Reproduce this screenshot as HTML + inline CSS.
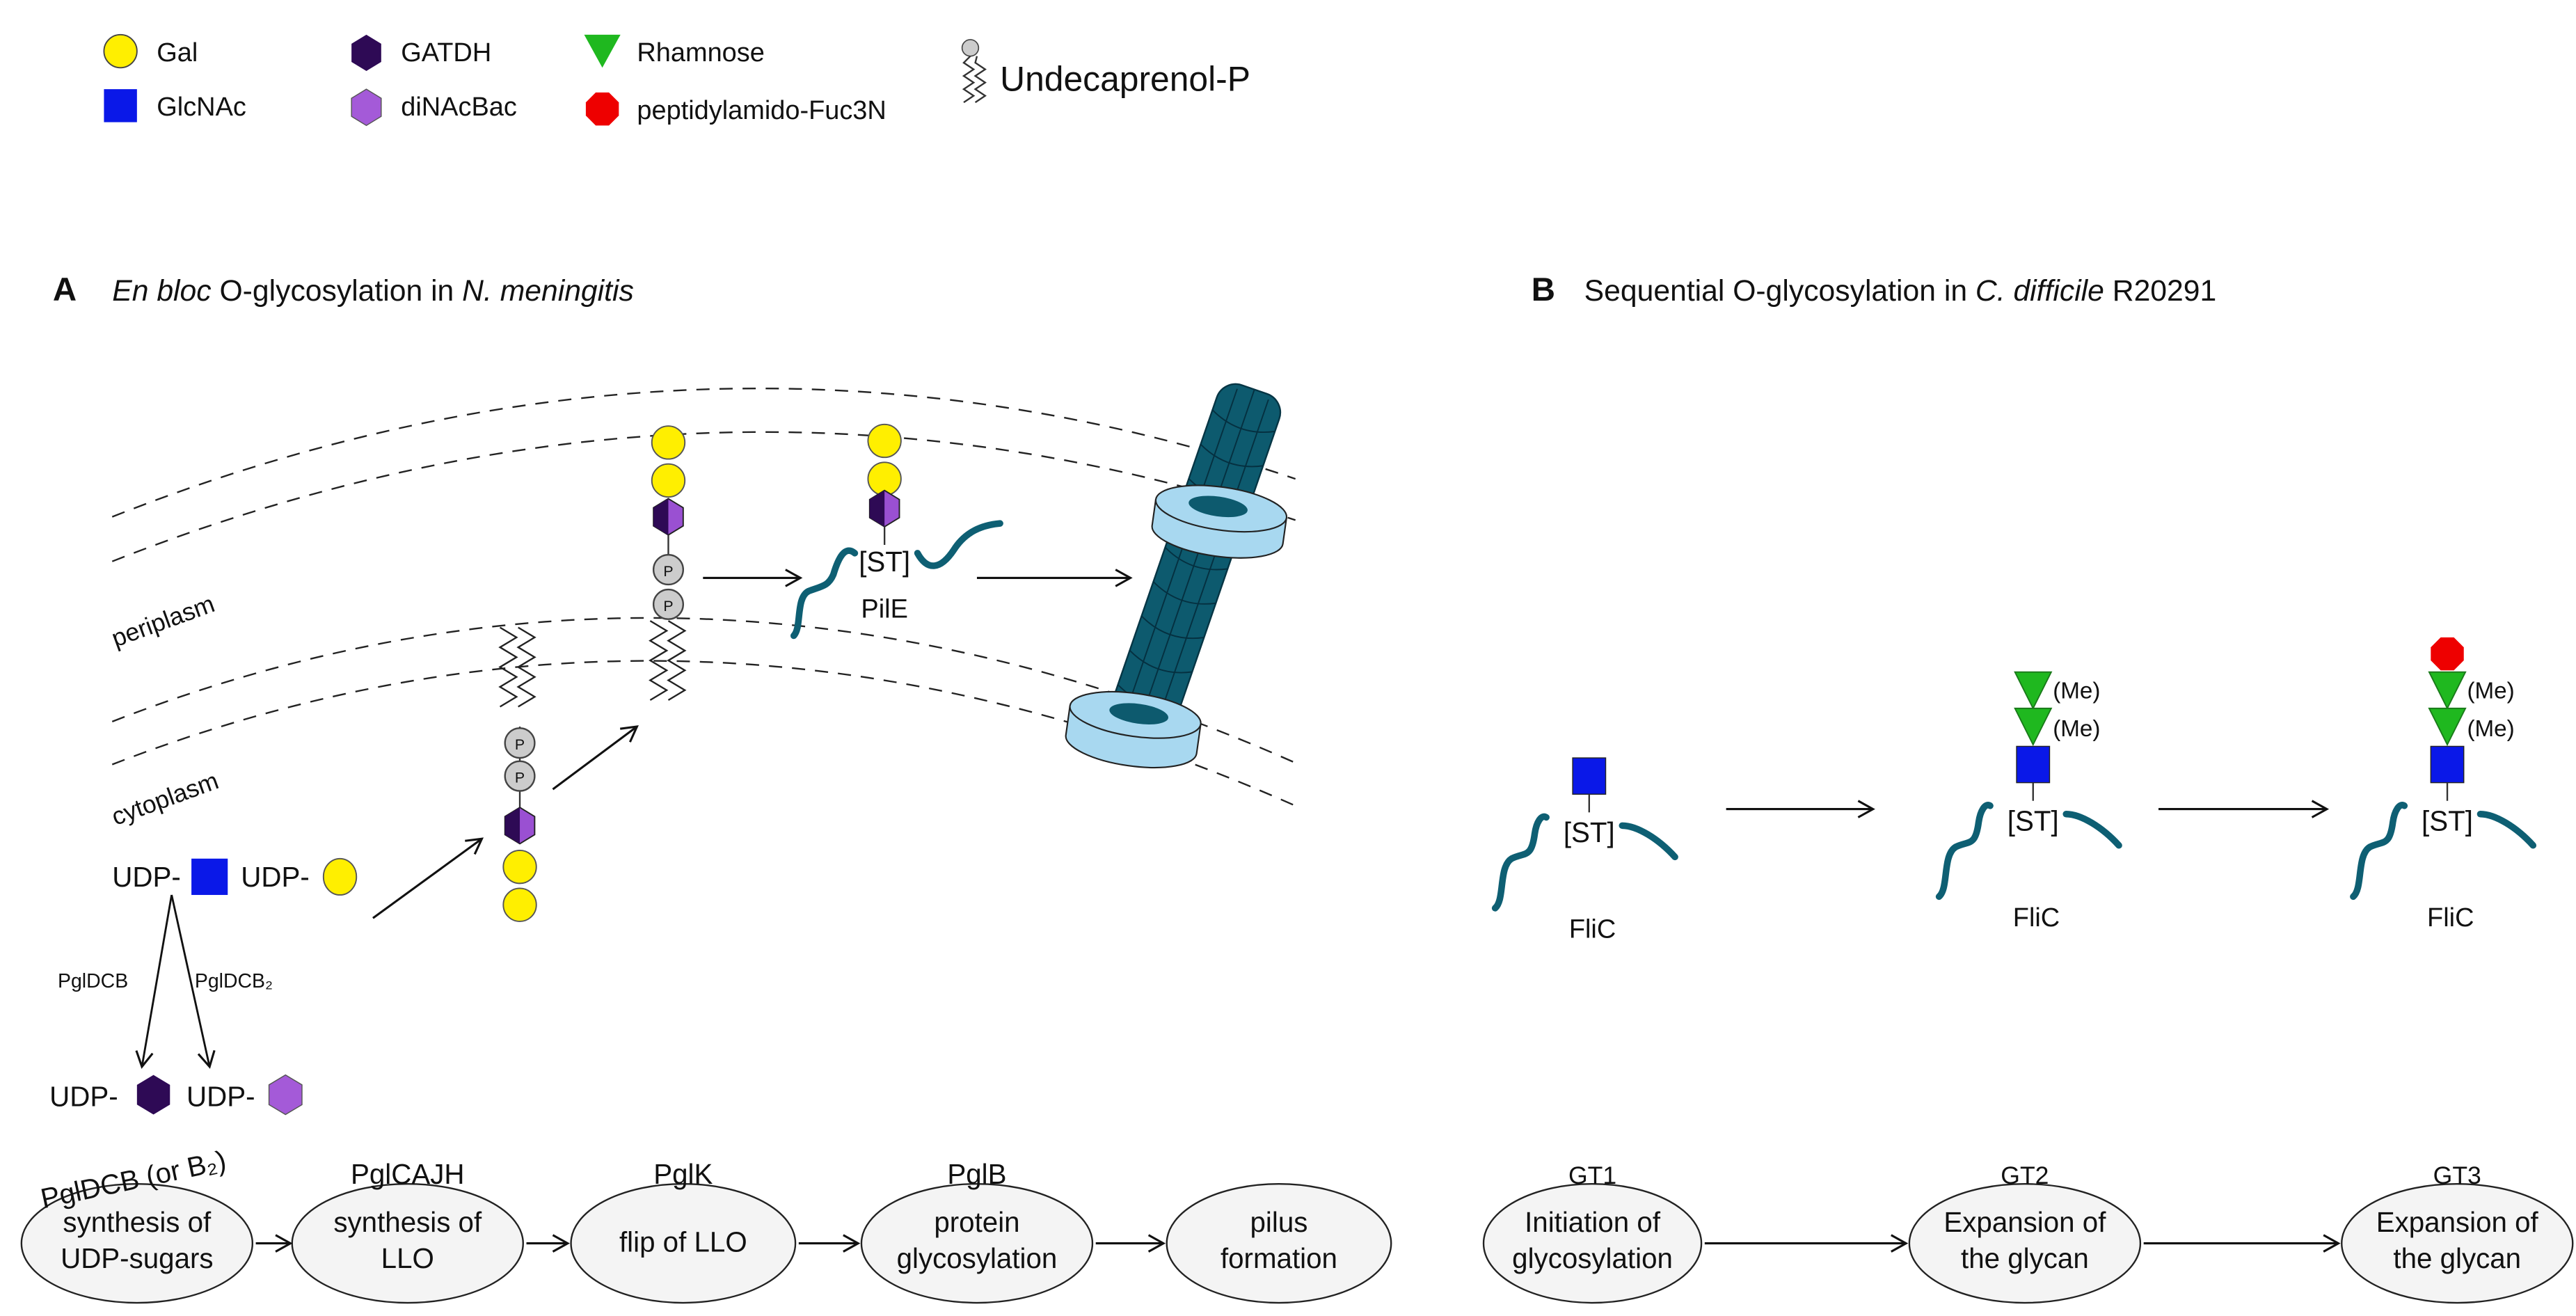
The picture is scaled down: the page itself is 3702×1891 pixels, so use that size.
<!DOCTYPE html>
<html><head><meta charset="utf-8"><style>
html,body{margin:0;padding:0;background:#fff;}
svg{display:block;}
text{font-family:"Liberation Sans",Arial,sans-serif;fill:#111;}
</style></head><body>
<svg width="3702" height="1891" viewBox="0 0 1561 797" preserveAspectRatio="none" xmlns="http://www.w3.org/2000/svg">
<defs>
<marker id="ar" markerWidth="12" markerHeight="12" refX="10" refY="6" orient="auto" markerUnits="userSpaceOnUse">
<path d="M1,1 L10,6 L1,11" fill="none" stroke="#111" stroke-width="1.3"/></marker>
<g id="hexh"><polygon points="0,-11 9,-5.5 9,5.5 0,11 -9,5.5 -9,-5.5" fill="#9a50d2" stroke="#222" stroke-width="0.8"/><polygon points="0,-11 0,11 -9,5.5 -9,-5.5" fill="#2e0a55"/></g>
<g id="tri"><polygon points="-11,-11 11,-11 0,11" fill="#1fb81f" stroke="#1a7a1a" stroke-width="0.8"/></g>
<g id="zig"><path d="M-6,0 l10,6 l-10,6 l10,6 l-10,6 l10,6 l-10,6 l10,6 l-10,6" fill="none" stroke="#222" stroke-width="1"/></g>
</defs>
<!-- legend -->
<circle cx="73" cy="31" r="10" fill="#ffef00" stroke="#444" stroke-width="0.8"/>
<text x="95" y="37" font-size="16">Gal</text>
<rect x="63" y="54" width="20" height="20" fill="#0a18e8"/>
<text x="95" y="70" font-size="16">GlcNAc</text>
<polygon points="222,21 231,26.5 231,37.5 222,43 213,37.5 213,26.5" fill="#2e0a55"/>
<text x="243" y="37" font-size="16">GATDH</text>
<polygon points="222,54 231,59.5 231,70.5 222,76 213,70.5 213,59.5" fill="#a45ad8" stroke="#555" stroke-width="0.6"/>
<text x="243" y="70" font-size="16">diNAcBac</text>
<polygon points="354,21 376,21 365,41" fill="#1fb81f"/>
<text x="386" y="37" font-size="16">Rhamnose</text>
<polygon points="361,56 369,56 375,62 375,70 369,76 361,76 355,70 355,62" fill="#ee0000"/>
<text x="386" y="72" font-size="16">peptidylamido-Fuc3N</text>
<circle cx="588" cy="29" r="5" fill="#ccc" stroke="#444" stroke-width="0.7"/>
<path d="M588,34 l-4,4 l6,4 l-6,4 l6,4 l-6,4 l6,4 l-6,4" fill="none" stroke="#333" stroke-width="1"/>
<path d="M592,34 l-1,4 l6,4 l-6,4 l6,4 l-6,4 l6,4 l-6,4" fill="none" stroke="#333" stroke-width="1"/>
<text x="606" y="55" font-size="21">Undecaprenol-P</text>
<!-- titles -->
<text x="32" y="182" font-size="20" font-weight="bold">A</text>
<text x="68" y="182" font-size="18"><tspan font-style="italic">En bloc</tspan> O-glycosylation in <tspan font-style="italic">N. meningitis</tspan></text>
<text x="928" y="182" font-size="20" font-weight="bold">B</text>
<text x="960" y="182" font-size="18">Sequential O-glycosylation in <tspan font-style="italic">C. difficile</tspan> R20291</text>
<!-- membranes -->
<g fill="none" stroke="#222" stroke-width="1" stroke-dasharray="8,6">
<path d="M68,313 Q430,170 785,290"/>
<path d="M68,340 Q430,197 785,315"/>
<path d="M68,437 Q420,300 785,462"/>
<path d="M68,463 Q420,326 785,488"/>
</g>
<text transform="translate(70,392) rotate(-20)" font-size="15">periplasm</text>
<text transform="translate(70,500) rotate(-20)" font-size="15">cytoplasm</text>
<!-- left LLO -->
<use href="#zig" x="309" y="380"/><use href="#zig" x="320" y="380"/>
<line x1="315" y1="440" x2="315" y2="500" stroke="#333"/>
<circle cx="315" cy="450" r="9" fill="#ccc" stroke="#444"/><text x="315" y="454" font-size="9" text-anchor="middle">P</text>
<circle cx="315" cy="470" r="9" fill="#ccc" stroke="#444"/><text x="315" y="474" font-size="9" text-anchor="middle">P</text>
<use href="#hexh" x="315" y="500"/>
<circle cx="315" cy="525" r="10" fill="#ffef00" stroke="#555" stroke-width="0.8"/>
<circle cx="315" cy="548" r="10" fill="#ffef00" stroke="#555" stroke-width="0.8"/>
<line x1="226" y1="556" x2="292" y2="508" stroke="#111" stroke-width="1.3" marker-end="url(#ar)"/>
<line x1="335" y1="478" x2="386" y2="440" stroke="#111" stroke-width="1.3" marker-end="url(#ar)"/>
<!-- middle LLO -->
<circle cx="405" cy="268" r="10" fill="#ffef00" stroke="#555" stroke-width="0.8"/>
<circle cx="405" cy="291" r="10" fill="#ffef00" stroke="#555" stroke-width="0.8"/>
<use href="#hexh" x="405" y="313"/>
<line x1="405" y1="324" x2="405" y2="345" stroke="#333"/>
<circle cx="405" cy="345" r="9" fill="#ccc" stroke="#444"/><text x="405" y="349" font-size="9" text-anchor="middle">P</text>
<circle cx="405" cy="366" r="9" fill="#ccc" stroke="#444"/><text x="405" y="370" font-size="9" text-anchor="middle">P</text>
<use href="#zig" x="400" y="376"/><use href="#zig" x="411" y="376"/>
<line x1="426" y1="350" x2="485" y2="350" stroke="#111" stroke-width="1.3" marker-end="url(#ar)"/>
<!-- PilE -->
<circle cx="536" cy="267" r="10" fill="#ffef00" stroke="#555" stroke-width="0.8"/>
<circle cx="536" cy="290" r="10" fill="#ffef00" stroke="#555" stroke-width="0.8"/>
<use href="#hexh" x="536" y="308"/>
<line x1="536" y1="319" x2="536" y2="330" stroke="#333"/>
<text x="536" y="346" font-size="17" text-anchor="middle">[ST]</text>
<path d="M481,385 C486,380 482,362 490,358 C498,355 502,355 505,348 C508,338 512,330 518,335" fill="none" stroke="#0e5f73" stroke-width="4" stroke-linecap="round"/>
<path d="M556,335 C562,346 570,345 578,333 C585,322 595,318 606,317" fill="none" stroke="#0e5f73" stroke-width="4" stroke-linecap="round"/>
<text x="536" y="374" font-size="16" text-anchor="middle">PilE</text>
<line x1="592" y1="350" x2="685" y2="350" stroke="#111" stroke-width="1.3" marker-end="url(#ar)"/>
<!-- pilus -->
<g transform="translate(725,338) rotate(19)">
<rect x="-20" y="-108" width="40" height="216" rx="12" fill="#0d5a6e" stroke="#063544"/>
<g stroke="#053040" stroke-width="0.8" fill="none">
<path d="M-10,-105 V105 M0,-108 V108 M10,-105 V105"/>
<path d="M-20,-88 Q0,-78 20,-88 M-20,-66 Q0,-56 20,-66 M-20,-44 Q0,-34 20,-44 M-20,-22 Q0,-12 20,-22 M-20,0 Q0,10 20,0 M-20,22 Q0,32 20,22 M-20,44 Q0,54 20,44 M-20,66 Q0,76 20,66 M-20,88 Q0,98 20,88"/>
</g>
</g>
<g transform="translate(740,308) rotate(8)">
<path d="M-40,0 V16 A40,13 0 0 0 40,16 V0" fill="#a8d8f0" stroke="#222" stroke-width="0.9"/>
<ellipse cx="0" cy="0" rx="40" ry="13" fill="#a8d8f0" stroke="#222" stroke-width="0.9"/>
<ellipse cx="-2" cy="-1" rx="18" ry="6" fill="#0d5a6e"/>
</g>
<g transform="translate(688,433) rotate(8)">
<path d="M-40,0 V18 A40,13 0 0 0 40,18 V0" fill="#a8d8f0" stroke="#222" stroke-width="0.9"/>
<ellipse cx="0" cy="0" rx="40" ry="13" fill="#a8d8f0" stroke="#222" stroke-width="0.9"/>
<ellipse cx="2" cy="-1" rx="18" ry="6" fill="#0d5a6e"/>
</g>
<!-- UDP sugars -->
<text x="68" y="537" font-size="17">UDP-</text>
<rect x="116" y="520" width="22" height="22" fill="#0a18e8"/>
<text x="146" y="537" font-size="17">UDP-</text>
<ellipse cx="206" cy="531" rx="10" ry="11" fill="#ffef00" stroke="#555" stroke-width="0.8"/>
<line x1="104" y1="542" x2="86" y2="646" stroke="#111" stroke-width="1.2" marker-end="url(#ar)"/>
<line x1="104" y1="542" x2="127" y2="646" stroke="#111" stroke-width="1.2" marker-end="url(#ar)"/>
<text x="35" y="598" font-size="12">PglDCB</text>
<text x="118" y="598" font-size="12">PglDCB₂</text>
<text x="30" y="670" font-size="17">UDP-</text>
<polygon points="93,651 103,657 103,669 93,675 83,669 83,657" fill="#2e0a55"/>
<text x="113" y="670" font-size="17">UDP-</text>
<polygon points="173,651 183,657 183,669 173,675 163,669 163,657" fill="#a45ad8" stroke="#555" stroke-width="0.6"/>
<!-- bottom -->
<g fill="#f4f4f4" stroke="#222" stroke-width="1">
<ellipse cx="83" cy="753" rx="70" ry="36"/>
<ellipse cx="247" cy="753" rx="70" ry="36"/>
<ellipse cx="414" cy="753" rx="68" ry="36"/>
<ellipse cx="592" cy="753" rx="70" ry="36"/>
<ellipse cx="775" cy="753" rx="68" ry="36"/>
<ellipse cx="965" cy="753" rx="66" ry="36"/>
<ellipse cx="1227" cy="753" rx="70" ry="36"/>
<ellipse cx="1489" cy="753" rx="70" ry="36"/>
</g>
<g font-size="17" text-anchor="middle">
<text x="83" y="746">synthesis of</text><text x="83" y="768">UDP-sugars</text>
<text x="247" y="746">synthesis of</text><text x="247" y="768">LLO</text>
<text x="414" y="758">flip of LLO</text>
<text x="592" y="746">protein</text><text x="592" y="768">glycosylation</text>
<text x="775" y="746">pilus</text><text x="775" y="768">formation</text>
<text x="965" y="746">Initiation of</text><text x="965" y="768">glycosylation</text>
<text x="1227" y="746">Expansion of</text><text x="1227" y="768">the glycan</text>
<text x="1489" y="746">Expansion of</text><text x="1489" y="768">the glycan</text>
<text transform="translate(82,720) rotate(-12)">PglDCB (or B₂)</text>
<text x="247" y="717">PglCAJH</text>
<text x="414" y="717">PglK</text>
<text x="592" y="717">PglB</text>
<text x="965" y="717" font-size="15">GT1</text>
<text x="1227" y="717" font-size="15">GT2</text>
<text x="1489" y="717" font-size="15">GT3</text>
</g>
<g stroke="#111" stroke-width="1.3" marker-end="url(#ar)">
<line x1="155" y1="753" x2="176" y2="753"/>
<line x1="319" y1="753" x2="344" y2="753"/>
<line x1="484" y1="753" x2="520" y2="753"/>
<line x1="664" y1="753" x2="705" y2="753"/>
<line x1="1033" y1="753" x2="1155" y2="753"/>
<line x1="1299" y1="753" x2="1417" y2="753"/>
<line x1="1046" y1="490" x2="1135" y2="490"/>
<line x1="1308" y1="490" x2="1410" y2="490"/>
</g>
<!-- B FliC -->
<g id="f1">
<rect x="953" y="459" width="20" height="22" fill="#0a18e8" stroke="#222" stroke-width="0.6"/>
<line x1="963" y1="481" x2="963" y2="492" stroke="#333"/>
<text x="963" y="510" font-size="17" text-anchor="middle">[ST]</text>
<path d="M906,550 C912,545 908,525 916,520 C924,516 928,520 930,505 C931,498 934,493 937,495" fill="none" stroke="#0e5f73" stroke-width="4" stroke-linecap="round"/>
<path d="M983,500 C992,500 1005,508 1015,519" fill="none" stroke="#0e5f73" stroke-width="4" stroke-linecap="round"/>
<text x="965" y="568" font-size="16" text-anchor="middle">FliC</text>
</g>
<use href="#f1" x="269" y="-7"/>
<use href="#f1" x="520" y="-7"/>
<use href="#tri" x="1232" y="418"/><use href="#tri" x="1232" y="440"/>
<text x="1244" y="423" font-size="14">(Me)</text><text x="1244" y="446" font-size="14">(Me)</text>
<use href="#tri" x="1483" y="418"/><use href="#tri" x="1483" y="440"/>
<text x="1495" y="423" font-size="14">(Me)</text><text x="1495" y="446" font-size="14">(Me)</text>
<polygon points="1479,386 1487,386 1493,392 1493,400 1487,406 1479,406 1473,400 1473,392" fill="#ee0000"/>
</svg>
</body></html>
